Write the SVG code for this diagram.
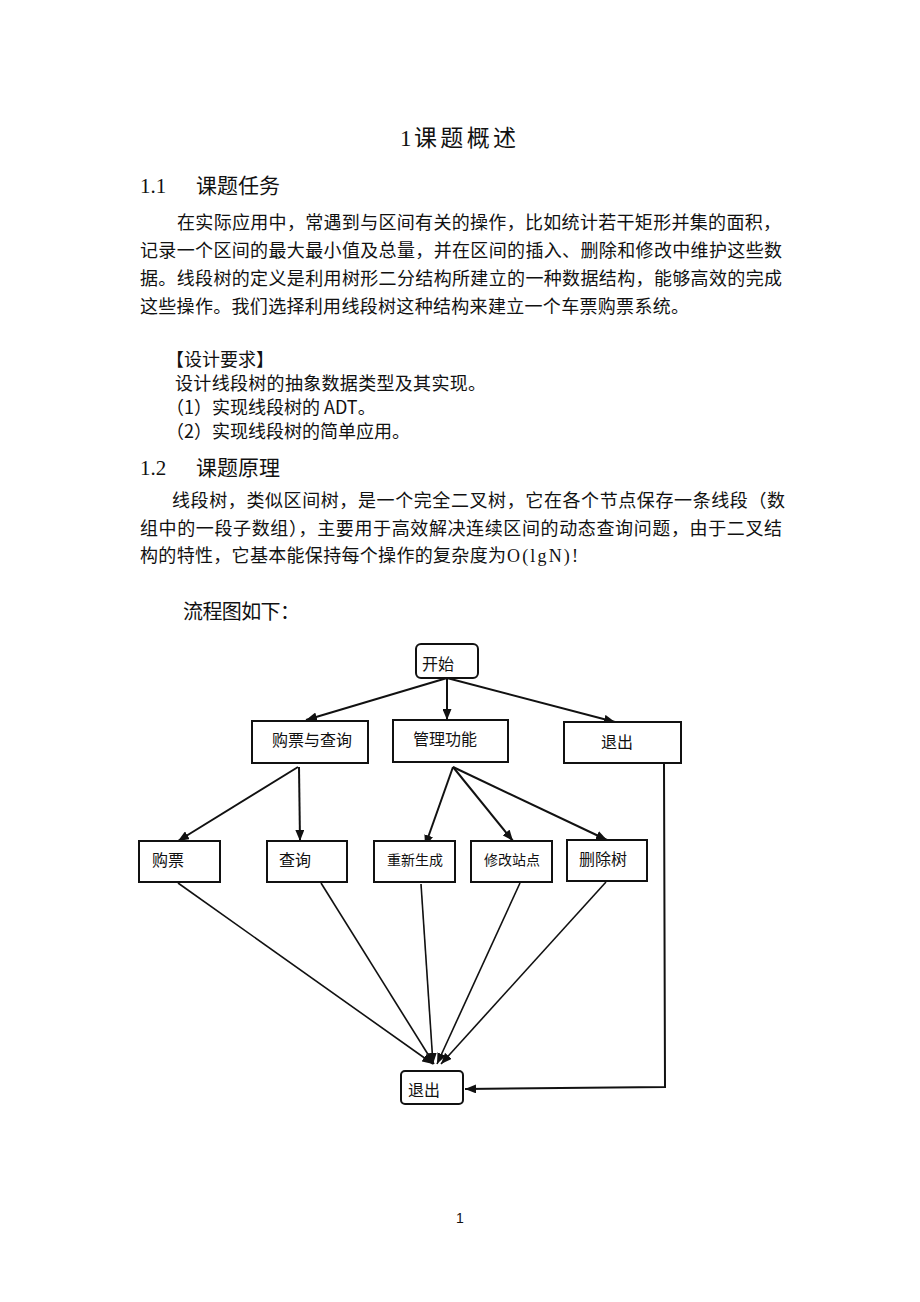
<svg xmlns="http://www.w3.org/2000/svg" width="920" height="1302" viewBox="0 0 920 1302">
<style>
.bg{fill:#fff}
.serif{font-family:"Liberation Serif","Noto Sans CJK SC",serif;fill:#111}
.sans{font-family:"Noto Sans CJK SC","Liberation Sans",sans-serif;fill:#111}
.body{font-size:18px}
.h2{font-size:21px}
.title{font-size:23px}
.box{fill:#fff;stroke:#111;stroke-width:2}
.lbl{font-family:"Noto Sans CJK SC","Liberation Sans",sans-serif;font-size:16px;fill:#111}
.lbls{font-family:"Liberation Serif","Noto Sans CJK SC",serif;font-size:14px;fill:#111}
.lblm{font-family:"Liberation Serif","Noto Sans CJK SC",serif;font-size:16px;fill:#111}
.edge{fill:none;stroke:#111;stroke-width:2;marker-end:url(#arr)}
.edge2{fill:none;stroke:#111;stroke-width:1.6;marker-end:url(#arr)}
</style>
<defs>
<marker id="arr" markerUnits="userSpaceOnUse" markerWidth="11" markerHeight="9" refX="11" refY="4.5" orient="auto">
<path d="M0,0 L11,4.5 L0,9 z" fill="#111"/>
</marker>
</defs>
<rect class="bg" x="0" y="0" width="920" height="1302"/>

<g id="text">
<text class="serif title" x="400" y="146">1</text>
<text class="serif title" x="414" y="146" textLength="102" lengthAdjust="spacing">课题概述</text>

<text class="serif h2" x="140" y="193">1.1</text>
<text class="serif h2" x="196" y="193" textLength="84" lengthAdjust="spacing">课题任务</text>

<text class="serif body" x="177" y="229" textLength="604" lengthAdjust="spacing">在实际应用中，常遇到与区间有关的操作，比如统计若干矩形并集的面积，</text>
<text class="serif body" x="140" y="257" textLength="642" lengthAdjust="spacing">记录一个区间的最大最小值及总量，并在区间的插入、删除和修改中维护这些数</text>
<text class="serif body" x="140" y="285" textLength="642" lengthAdjust="spacing">据。线段树的定义是利用树形二分结构所建立的一种数据结构，能够高效的完成</text>
<text class="serif body" x="140" y="313" textLength="549" lengthAdjust="spacing">这些操作。我们选择利用线段树这种结构来建立一个车票购票系统。</text>

<text class="sans body" x="166" y="366">【设计要求】</text>
<text class="sans body" x="175" y="390" textLength="311" lengthAdjust="spacing">设计线段树的抽象数据类型及其实现。</text>
<text class="sans body" x="166" y="414">（1）实现线段树的 ADT。</text>
<text class="sans body" x="166" y="438">（2）实现线段树的简单应用。</text>

<text class="serif h2" x="140" y="475">1.2</text>
<text class="serif h2" x="196" y="475" textLength="84" lengthAdjust="spacing">课题原理</text>

<text class="serif body" x="172" y="507" textLength="613" lengthAdjust="spacing">线段树，类似区间树，是一个完全二叉树，它在各个节点保存一条线段（数</text>
<text class="serif body" x="140" y="535" textLength="642" lengthAdjust="spacing">组中的一段子数组），主要用于高效解决连续区间的动态查询问题，由于二叉结</text>
<text class="serif body" x="140" y="562" textLength="366" lengthAdjust="spacing">构的特性，它基本能保持每个操作的复杂度为</text>
<text class="serif body" x="507" y="562" textLength="71" lengthAdjust="spacing">O(lgN)!</text>

<text class="sans" x="183" y="619" font-size="20" textLength="117" lengthAdjust="spacing">流程图如下：</text>

<text x="456" y="1223" font-family="Liberation Sans, sans-serif" font-size="14" fill="#111">1</text>
</g>

<g id="connectors">
<path class="edge" d="M447,678 L306,720"/>
<path class="edge" d="M447,678 L447,720"/>
<path class="edge" d="M447,678 L615,722"/>
<path class="edge" d="M298,767 L178,841"/>
<path class="edge" d="M299,767 L300,841"/>
<path class="edge" d="M453,767 L425,846"/>
<path class="edge" d="M453,767 L513,841"/>
<path class="edge" d="M453,767 L607,840"/>
<path class="edge2" d="M178,883 L433,1064"/>
<path class="edge2" d="M321,883 L434,1064"/>
<path class="edge2" d="M421,884 L433,1064"/>
<path class="edge2" d="M520,883 L437,1064"/>
<path class="edge2" d="M606,882 L441,1064"/>
<path class="edge" d="M664,764 L665,1087 L465,1089"/>
</g>

<g id="node-start">
<rect class="box" x="416" y="644" width="62" height="34" rx="5"/>
<text class="lbl" x="422" y="670">开始</text>
</g>
<g id="node-buy-query">
<rect class="box" x="252" y="721" width="116" height="42"/>
<text class="lbl" x="272" y="746">购票与查询</text>
</g>
<g id="node-manage">
<rect class="box" x="393" y="720" width="115" height="42"/>
<text class="lbl" x="413" y="745">管理功能</text>
</g>
<g id="node-exit-top">
<rect class="box" x="564" y="722" width="117" height="41"/>
<text class="lbl" x="601" y="748">退出</text>
</g>
<g id="node-buy">
<rect class="box" x="139" y="841" width="81" height="41"/>
<text class="lbl" x="152" y="866">购票</text>
</g>
<g id="node-query">
<rect class="box" x="267" y="841" width="80" height="41"/>
<text class="lbl" x="279" y="866">查询</text>
</g>
<g id="node-rebuild">
<rect class="box" x="374" y="841" width="81" height="41"/>
<text class="lbls" x="387" y="865">重新生成</text>
</g>
<g id="node-modify">
<rect class="box" x="471" y="841" width="81" height="41"/>
<text class="lbls" x="484" y="865">修改站点</text>
</g>
<g id="node-delete">
<rect class="box" x="567" y="840" width="80" height="41"/>
<text class="lbl" x="579" y="865">删除树</text>
</g>
<g id="node-exit-bottom">
<rect class="box" x="401" y="1071" width="62" height="33" rx="4"/>
<text class="lblm" x="408" y="1096">退出</text>
</g>
</svg>
